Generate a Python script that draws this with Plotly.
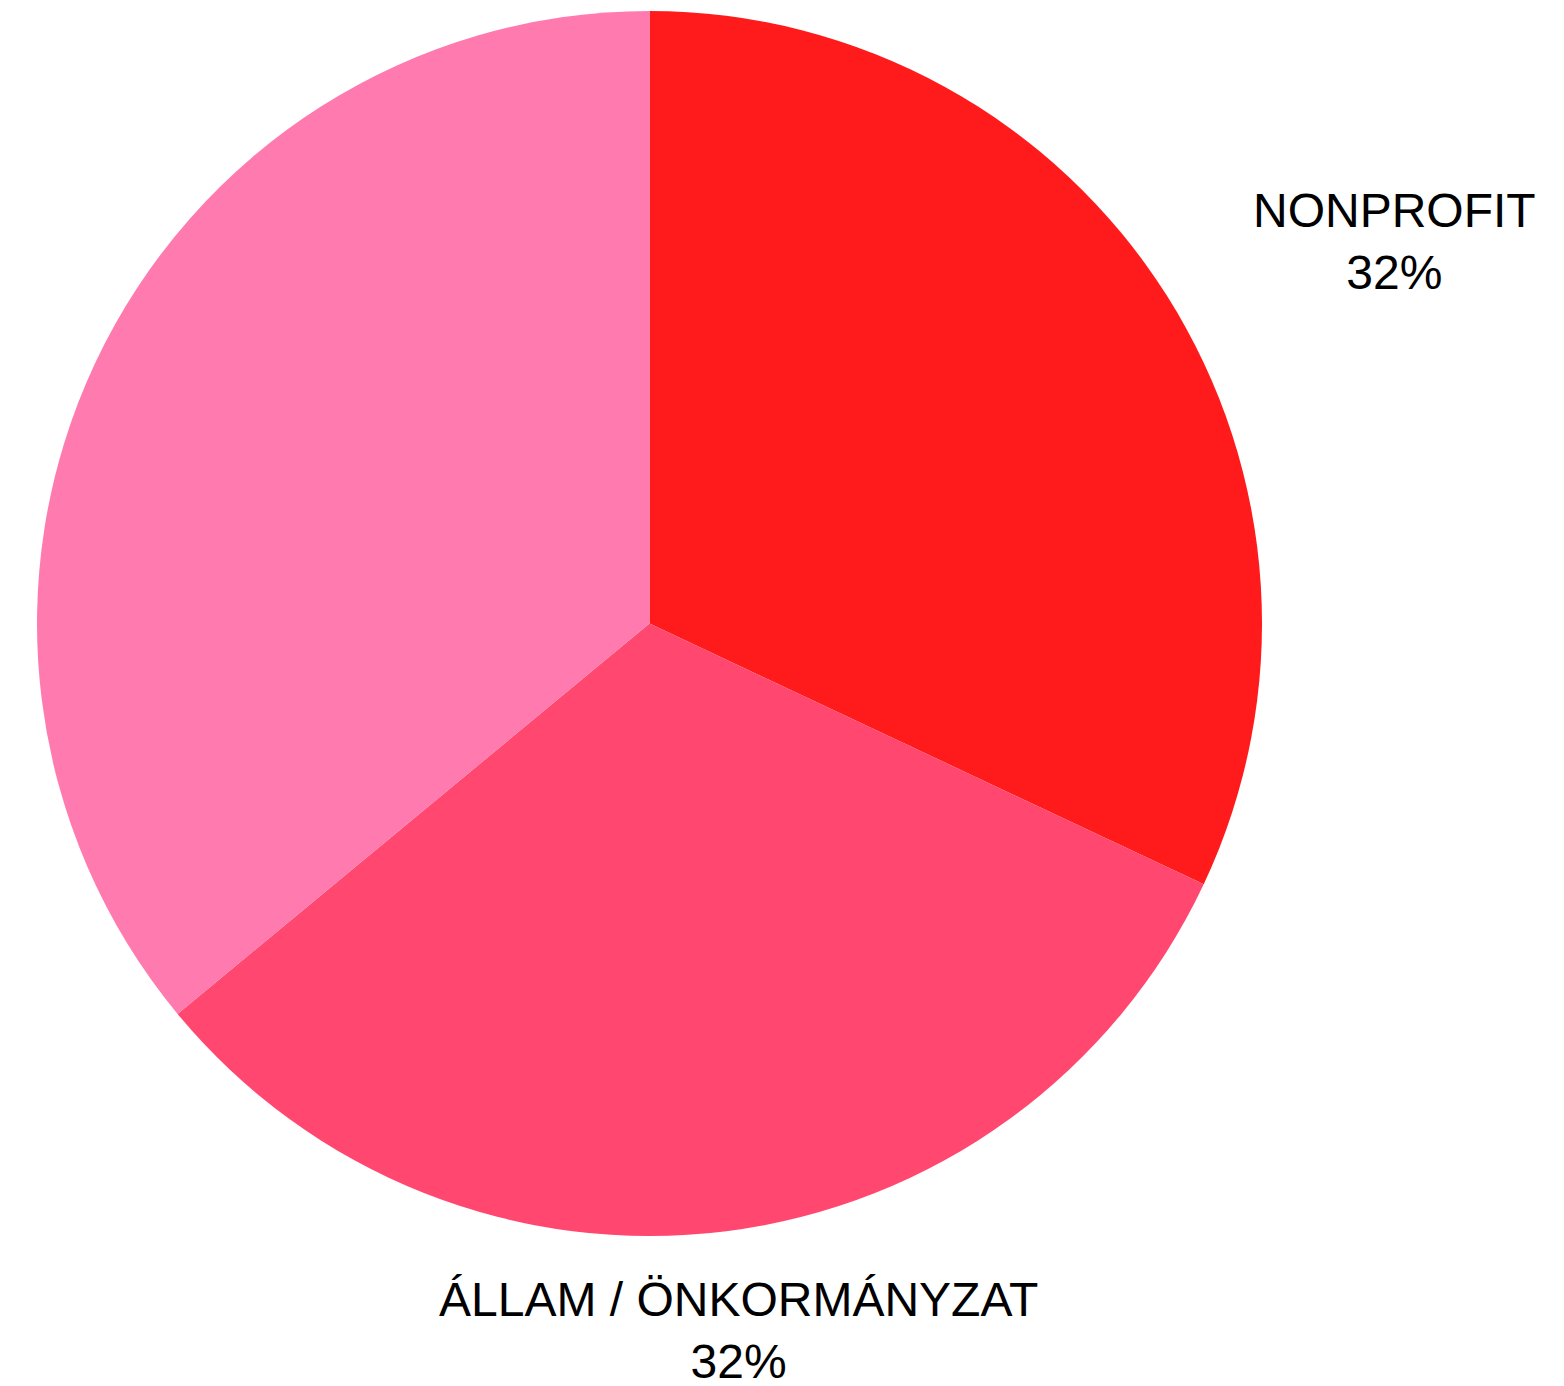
import math
import plotly.graph_objects as go

# ---- data ----
categories = ["NONPROFIT", "ÁLLAM / ÖNKORMÁNYZAT", "FORPROFIT"]
values = [32, 32, 36]
colors = ["#ff1b1b", "#ff476f", "#ff7aaf"]

W, H = 1564, 1386
off = 8                            # page body margin
cx, cy, r = 649.5 - off, 623.5 - off, 612.5   # pie centre / radius in px (figure coords)
label_dist = 1.163                 # label anchor distance in radii
side_gap = 5                       # extra horizontal gap for side-anchored labels
font = dict(family="Liberation Sans, Arial, sans-serif", size=48, color="#000000")

fig = go.Figure(go.Pie(
    labels=categories,
    values=values,
    marker=dict(colors=colors, line=dict(width=0)),
    sort=False,
    direction="clockwise",
    rotation=0,
    textinfo="none",
    hoverinfo="label+percent",
    showlegend=False,
    domain=dict(x=[(cx - r) / W, (cx + r) / W], y=[1 - (cy + r) / H, 1 - (cy - r) / H]),
))

total = sum(values)
cum = 0
annotations = []
for cat, v in zip(categories, values):
    mid = (cum + v / 2) / total * 2 * math.pi
    cum += v
    s, c = math.sin(mid), math.cos(mid)
    px = cx + label_dist * r * s
    py = cy - label_dist * r * c
    if s > 0.5:
        xa, xs = "left", 0
    elif s < -0.5:
        xa, xs = "right", side_gap
    else:
        xa, xs = "center", 0
    pct = round(v / total * 100)
    annotations.append(dict(
        x=px / W, y=1 - py / H, xref="paper", yref="paper",
        text=f"{cat}<br>{pct}%", showarrow=False, xshift=xs, yshift=4 if xa == "right" else 0,
        xanchor=xa, yanchor="middle", align="center", font=font,
    ))

fig.update_layout(
    width=W, height=H,
    margin=dict(l=0, r=0, t=0, b=0),
    paper_bgcolor="white", plot_bgcolor="white",
    annotations=annotations,
)

fig.write_html("out.html")
